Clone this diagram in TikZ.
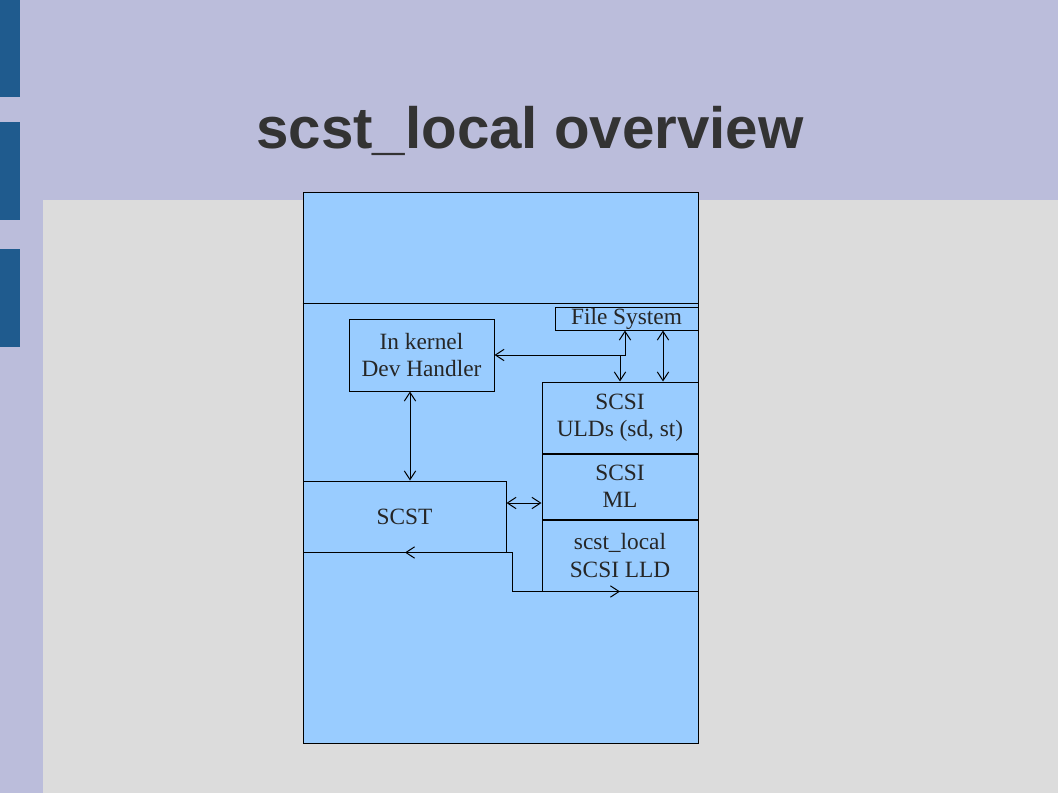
\documentclass[tikz,border=0pt]{standalone}
\usepackage{fontspec}
\setmainfont{Liberation Serif}
\setsansfont{Liberation Sans}
\usetikzlibrary{arrows,arrows.meta,positioning}
\definecolor{slidebg}{HTML}{BBBDDB}
\definecolor{contentgray}{HTML}{DCDCDC}
\definecolor{barblue}{HTML}{1F5B8E}
\definecolor{paneblue}{HTML}{99CCFF}
\definecolor{titlegray}{HTML}{333333}
\tikzset{
  pane/.style  = {draw, fill=paneblue, inner sep=0pt, line width=0.75pt},
  block/.style = {draw, fill=paneblue, inner sep=0pt, align=center, line width=0.75pt,
                  font=\fontsize{17.5}{20.5}\selectfont, text=black!85},
  link/.style  = {>={Straight Barb[length=6.5pt,width=8.5pt]}, line width=0.75pt},
  title/.style = {font=\sffamily\bfseries\fontsize{43.7}{50}\selectfont, text=titlegray}
}

\begin{document}
\begin{tikzpicture}[x=0.75pt,y=-0.75pt]
\useasboundingbox (0,0) rectangle (1058,793);
% slide background
\fill[slidebg] (0,0) rectangle (1058,793);
\fill[contentgray] (43,200) rectangle (1058,793);
\foreach \top/\bot in {0/97,122/220,249/347}
  \fill[barblue] (0,\top) rectangle (20,\bot);
\node[title] (title) at (530,131) {scst\_local overview};

% kernel pane
\node[pane, minimum width=296.25pt, minimum height=413.25pt] (pane) at (500.5,467.5) {};
\draw[line width=0.75pt] (pane.west |- 0,303) -- (pane.east |- 0,303);

% blocks
\node[block, minimum width=107.25pt, minimum height=17.25pt] (fs) at (626.5,318.5) {File System};
\node[block, minimum width=108.75pt, minimum height=54pt] (dev) at (421.5,355) {In kernel\\Dev Handler};
\node[block, minimum width=117pt, minimum height=53.25pt] (uld) at (620,417.5) {SCSI\\ULDs (sd, st)};
\node[block, minimum width=117pt, minimum height=48.75pt, below=0pt of uld] (ml) {SCSI\\ML};
\node[block, minimum width=117pt, minimum height=53.25pt, below=0pt of ml] (lld) {scst\_local\\SCSI LLD};
\node[block, minimum width=152.25pt, minimum height=53.25pt] (scst) at (404.5,516.5) {SCST};

% connectors
\coordinate (hx) at (410,0);
\coordinate (fx) at (625,0);
\coordinate (rx) at (663,0);
\coordinate (my) at (0,503);
\coordinate (bx) at (405,0);
\coordinate (kx) at (512,0);
\draw[link,<->] (dev.south -| hx) -- (scst.north -| hx);
\draw[link,<->] (fs.south -| fx) |- (dev.east);
\draw[link,->] (uld.north |- dev.east) -- (uld.north);
\draw[link,<->] (fs.south -| rx) -- (uld.north -| rx);
\draw[link,<->] (scst.east |- my) -- (ml.west |- my);
\draw[link,<->] (scst.south -| bx) -- (scst.south -| kx) |- (lld.south);
\end{tikzpicture}
\end{document}
